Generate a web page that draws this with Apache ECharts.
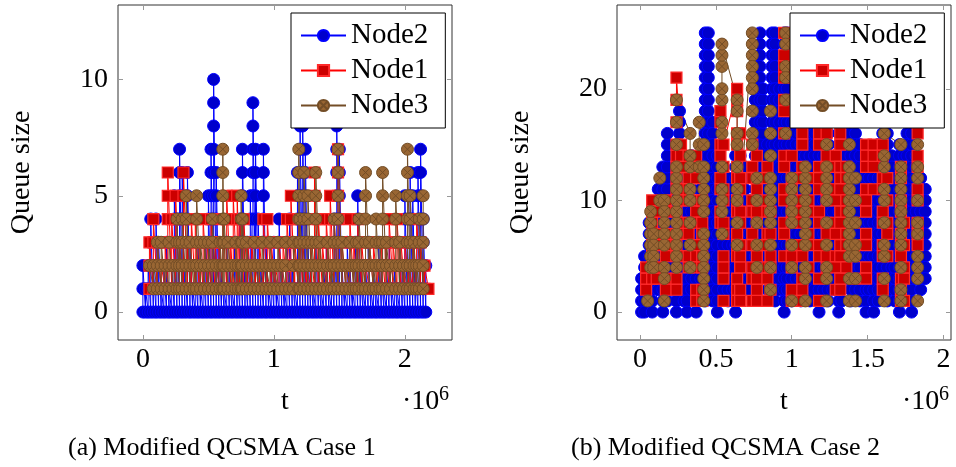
<!DOCTYPE html>
<html><head><meta charset="utf-8">
<script src="https://cdn.jsdelivr.net/npm/echarts@6/dist/echarts.min.js"></script>
<style>html,body{margin:0;padding:0;background:#fff}#c{width:956px;height:467px}</style>
</head><body><div id="c"></div>
<script>
// ---------------- DATA ----------------
const seriesNames = ['Node2', 'Node1', 'Node3'];
const captions = ['(a) Modified QCSMA Case 1', '(b) Modified QCSMA Case 2'];
const xAxisName = 't';
const yAxisName = 'Queue size';
const case1XTicks = [0, 1, 2];
const case1YTicks = [0, 5, 10];
const case2XTicks = [0, 0.5, 1, 1.5, 2];
const case2YTicks = [0, 10, 20];
// each run: [t (x10^6), queue sizes logged at that time, in order]
const case1Node2 = [
[0.00,[0,1,2]],[0.02,[0,1]],[0.04,[0,1,2]],[0.06,[0,1,2,3,4]],[0.08,[0,1,2]],[0.10,[0,1,2,3,4]],[0.12,[0,1,2,3]],[0.14,[0,1]],
[0.16,[0,1,2]],[0.18,[0,1,2,3]],[0.20,[0,1]],[0.22,[0,1,2]],[0.24,[0,1,2,3,4,5]],[0.26,[0,1,2,3,4]],[0.28,[0,1,2,3,4,5,6,7]],
[0.30,[0,1,2,3,4,5,6]],[0.32,[0,1,2]],[0.34,[0,1,2,3,4,5,6]],[0.36,[0,1,2,3]],[0.38,[0,1]],[0.40,[0,1,2]],[0.42,[0,1,2,3]],
[0.44,[0,1]],[0.46,[0,1,2]],[0.48,[0,1,2,3]],[0.50,[0,1,2,3,4,5]],[0.52,[0,1,2,3,4,5,6,7]],[0.54,[0,1,2,3,4,5,6,7,8,9,10]],
[0.56,[0,1,2,3,4,5,6]],[0.58,[0,1,2,3]],[0.60,[0,1,2]],[0.62,[0,1]],[0.64,[0,1,2,3]],[0.66,[0,1,2]],[0.68,[0,1]],[0.70,[0,1,2,3]],
[0.72,[0,1,2]],[0.74,[0,1,2,3,4]],[0.76,[0,1,2,3,4,5,6,7]],[0.78,[0,1,2]],[0.80,[0,1,2,3]],[0.82,[0,1,2,3,4,5]],
[0.84,[0,1,2,3,4,5,6,7,8,9]],[0.86,[0,1,2,3,4,5,6,7]],[0.88,[0,1,2,3,4]],[0.90,[0,1,2]],[0.92,[0,1,2,3,4,5,6,7]],[0.94,[0,1,2,3]],
[0.96,[0,1]],[0.98,[0,1,2]],[1.00,[0,1,2,3]],[1.02,[0,1]],[1.04,[0,1,2,3,4]],[1.06,[0,1,2]],[1.08,[0,1]],[1.10,[0,1,2,3]],
[1.12,[0,1,2,3,4]],[1.14,[0,1,2]],[1.16,[0,1]],[1.18,[0,1,2,3,4,5,6]],[1.20,[0,1,2,3,4,5,6,7,8]],[1.22,[0,1,2,3,4,5,6,7,8]],
[1.24,[0,1,2,3,4,5,6,7]],[1.26,[0,1,2,3]],[1.28,[0,1,2]],[1.30,[0,1]],[1.32,[0,1,2,3]],[1.34,[0,1,2]],[1.36,[0,1]],[1.38,[0,1,2]],
[1.40,[0,1,2,3]],[1.42,[0,1]],[1.44,[0,1,2]],[1.46,[0,1,2,3,4]],[1.48,[0,1,2,3,4,5,6,7,8]],[1.50,[0,1,2,3,4,5,6,7]],[1.52,[0,1,2]],
[1.54,[0,1]],[1.56,[0,1,2,3]],[1.58,[0,1,2]],[1.60,[0,1]],[1.62,[0,1,2,3]],[1.64,[0,1,2,3,4,5]],[1.66,[0,1,2]],[1.68,[0,1]],
[1.70,[0,1,2]],[1.72,[0,1,2,3]],[1.74,[0,1]],[1.76,[0,1,2]],[1.78,[0,1]],[1.80,[0,1,2,3]],[1.82,[0,1,2]],[1.84,[0,1]],
[1.86,[0,1,2]],[1.88,[0,1,2,3]],[1.90,[0,1]],[1.92,[0,1,2]],[1.94,[0,1]],[1.96,[0,1,2,3]],[1.98,[0,1,2]],[2.00,[0,1,2,3,4,5]],
[2.02,[0,1,2,3]],[2.04,[0,1,2,3,4,5,6]],[2.06,[0,1,2,3,4,5]],[2.08,[0,1,2]],[2.10,[0,1,2,3,4,5,6]],[2.12,[0,1,2,3,4,5,6,7]],
[2.14,[0,1,2,3,4]],[2.16,[0,1,2]]
];
const case1Node1 = [
[0.05,[1,2,3]],[0.08,[1,2,3,4]],[0.11,[1,2,3]],[0.14,[1,2]],[0.17,[1,2,3]],[0.19,[1,2,3,4,5,6]],[0.22,[1,2,3,4]],[0.25,[1,2,3,4,5]],
[0.28,[1,2,3]],[0.31,[1,2,3,4,5,6]],[0.34,[1,2,3]],[0.37,[1,2,3,4]],[0.40,[1,2,3,4]],[0.43,[1,2,3]],[0.46,[1,2,3,4]],[0.49,[1,2,3]],
[0.52,[1,2,3,4]],[0.55,[1,2,3]],[0.58,[1,2,3]],[0.61,[1,2,3,4]],[0.64,[1,2,3,4,5]],[0.67,[1,2,3]],[0.69,[1,2,3,4,5]],[0.72,[1,2,3,4,5]],
[0.74,[1,2,3,4]],[0.77,[1,2,3,4]],[0.80,[1,2,3]],[0.83,[1,2,3]],[0.86,[1,2]],[0.89,[1,2,3]],[0.92,[1,2,3,4]],[0.95,[1,2,3,4]],
[0.98,[1,2,3]],[1.01,[1,2]],[1.04,[1,2,3]],[1.07,[1,2,3]],[1.10,[1,2,3,4]],[1.13,[1,2,3,4,5]],[1.16,[1,2,3]],[1.19,[1,2,3,4]],
[1.22,[1,2,3]],[1.25,[1,2]],[1.28,[1,2,3]],[1.31,[1,2,3,4,5,6]],[1.34,[1,2,3,4]],[1.37,[1,2,3]],[1.40,[1,2,3,4]],[1.43,[1,2,3,4,5]],
[1.46,[1,2,3,4]],[1.49,[1,2,3,4,5,6,7]],[1.52,[1,2,3]],[1.55,[1,2]],[1.58,[1,2,3,4]],[1.61,[1,2,3]],[1.64,[1,2,3,4]],[1.67,[1,2,3]],
[1.70,[1,2]],[1.73,[1,2,3]],[1.76,[1,2,3]],[1.79,[1,2]],[1.82,[1,2,3]],[1.85,[1,2,3]],[1.88,[1,2,3,4]],[1.91,[1,2,3]],
[1.94,[1,2,3,4]],[1.97,[1,2,3]],[2.00,[1,2,3]],[2.03,[1,2]],[2.06,[1,2,3]],[2.09,[1,2,3,4]],[2.12,[1,2,3]],[2.15,[1,2]],[2.18,[1]]
];
const case1Node3 = [
[0.05,[2]],[0.08,[1,2]],[0.11,[1,2,3]],[0.14,[1,2,3]],[0.17,[1,2]],[0.20,[1,2,3]],[0.23,[1,2]],[0.26,[1,2,3,4]],[0.28,[1,2,3]],
[0.30,[1,2,3,4]],[0.33,[1,2,3,4,5]],[0.36,[1,2,3]],[0.39,[1,2]],[0.41,[1,2,3,4,5]],[0.44,[1,2,3]],[0.47,[1,2,3]],[0.50,[1,2,3]],
[0.53,[1,2,3,4]],[0.56,[1,2]],[0.59,[1,2,3]],[0.61,[1,2,3,4,5,6,7]],[0.62,[1,2,3,4]],[0.65,[1,2,3]],[0.68,[1,2]],[0.71,[1,2,3]],
[0.73,[1,2]],[0.75,[1,2,3,4,5]],[0.76,[1,2,3,4]],[0.79,[1,2,3]],[0.82,[1,2]],[0.85,[1,2,3]],[0.88,[1,2]],[0.91,[1,2,3]],[0.94,[1,2]],
[0.97,[1,2,3]],[1.00,[1,2]],[1.03,[1,2,3]],[1.06,[1,2]],[1.09,[1,2,3]],[1.12,[1]],[1.15,[1,2,3]],[1.19,[1,2,3,4,5,6,7]],
[1.20,[1,2,3,4]],[1.23,[1,2,3,4,5,6]],[1.26,[1,2,3,4,5]],[1.29,[1,2,3]],[1.32,[1,2,3,4,5,6]],[1.35,[1,2,3]],[1.38,[1,2]],
[1.41,[1,2,3]],[1.44,[1,2]],[1.46,[1,2,3,4]],[1.49,[1,2,3,4,5,6,7]],[1.52,[1,2,3]],[1.55,[1,2]],[1.58,[1,2,3]],[1.61,[1,2]],
[1.63,[1,2,3]],[1.65,[1,2,3,4]],[1.68,[1,2]],[1.70,[1,2,3,4,5,6]],[1.73,[1,2,3]],[1.76,[1,2]],[1.78,[1,2,3,4]],[1.81,[1,2,3]],
[1.83,[1,2,3,4,5,6]],[1.86,[1,2,3]],[1.89,[1,2]],[1.93,[1,2,3,4,5]],[1.96,[1,2,3]],[1.99,[1,2]],[2.02,[1,2,3,4,5,6,7]],
[2.04,[1,2,3,4,5]],[2.07,[1,2,3]],[2.09,[1,2]],[2.11,[1,2,3,4]],[2.14,[1,2,3,4,5]]
];
const case2Node2 = [
[0.01,[0,1,2,3]],[0.03,[5,4,3,2,1,0]],[0.06,[1,2,3,4,5,6,7,8]],[0.08,[6,5,4,3,2,1,0]],[0.12,[2,3,4,5,6,7,8,9,10,11]],
[0.15,[13,12,11,10,9,8,7,6,5,4,3,2,1,0]],[0.18,[1,2,3,4,5,6,7,8,9,10,11,12,13,14,15,16]],[0.21,[10,9,8,7,6,5,4,3,2]],
[0.24,[0,1,2,3,4,5,6,7,8,9,10,11,12,13,14]],[0.26,[18,17,16,15,14,13,12,11,10,9,8,7,6,5,4,3,2]],
[0.29,[1,2,3,4,5,6,7,8,9,10,11,12]],[0.31,[9,8,7,6,5,4,3,2,1,0]],[0.34,[2,3,4,5,6,7,8,9,10,11,12,13,14]],
[0.37,[8,7,6,5,4,3,2,1,0]],[0.40,[3,4,5,6,7,8,9,10,11,12,13]],
[0.43,[25,24,23,22,21,20,19,18,17,16,15,14,13,12,11,10,9,8,7,6,5,4,3,2,1]],
[0.45,[2,3,4,5,6,7,8,9,10,11,12,13,14,15,16,17,18,19,20,21,22,23,24,25]],
[0.48,[17,16,15,14,13,12,11,10,9,8,7,6,5,4,3,2,1]],[0.51,[0,1,2,3,4,5,6,7,8,9,10,11,12,13,14]],
[0.55,[13,12,11,10,9,8,7,6,5,4,3,2]],[0.58,[1,2,3,4,5,6,7,8,9,10,11,12]],[0.61,[8,7,6,5,4,3,2]],
[0.63,[0,1,2,3,4,5,6,7,8,9,10,11,12,13,14]],[0.66,[14,13,12,11,10,9,8,7,6,5,4,3,2]],[0.69,[3,4,5,6,7,8,9,10,11,12,13]],
[0.72,[10,9,8,7,6,5,4,3,2]],[0.76,[4,5,6,7,8,9,10,11,12,13,14,15,16,17,18,19,20,21,22]],
[0.79,[25,24,23,22,21,20,19,18,17,16,15,14,13,12,11,10,9,8,7,6,5,4,3]],
[0.81,[4,5,6,7,8,9,10,11,12,13,14,15,16,17,18,19,20]],[0.84,[15,14,13,12,11,10,9,8,7,6,5,4,3,2]],
[0.87,[3,4,5,6,7,8,9,10,11,12,13,14,15,16,17,18,19,20,21,22,23,24,25]],
[0.89,[25,24,23,22,21,20,19,18,17,16,15,14,13,12,11,10,9,8,7,6,5,4,3,2,1]],
[0.92,[2,3,4,5,6,7,8,9,10,11,12,13,14,15,16,17,18,19,20]],
[0.95,[25,24,23,22,21,20,19,18,17,16,15,14,13,12,11,10,9,8,7,6,5,4,3,2,1,0]],
[0.97,[1,2,3,4,5,6,7,8,9,10,11,12,13,14,15,16,17,18,19,20,21,22,23,24,25]],
[1.00,[18,17,16,15,14,13,12,11,10,9,8,7,6,5,4,3,2,1]],[1.03,[2,3,4,5,6,7,8,9,10,11,12,13,14,15,16,17,18,19,20]],
[1.06,[19,18,17,16,15,14,13,12,11,10,9,8,7,6,5,4,3,2,1]],[1.09,[3,4,5,6,7,8,9,10,11,12,13,14,15,16,17,18,19,20]],
[1.12,[18,17,16,15,14,13,12,11,10,9,8,7,6,5,4,3,2,1]],[1.15,[2,3,4,5,6,7,8,9,10,11,12,13,14,15,16]],
[1.18,[17,16,15,14,13,12,11,10,9,8,7,6,5,4,3,2,1,0]],[1.21,[1,2,3,4,5,6,7,8,9,10,11,12,13,14]],
[1.24,[16,15,14,13,12,11,10,9,8,7,6,5,4,3,2,1]],[1.27,[2,3,4,5,6,7,8,9,10,11,12,13]],
[1.31,[16,15,14,13,12,11,10,9,8,7,6,5,4,3,2,1,0]],[1.33,[1,2,3,4,5,6,7,8,9,10,11,12,13,14,15]],
[1.36,[17,16,15,14,13,12,11,10,9,8,7,6,5,4,3]],[1.39,[1,2,3,4,5,6,7,8,9,10,11,12,13,14,15,16]],
[1.42,[16,15,14,13,12,11,10,9,8,7,6,5,4,3,2]],[1.45,[1,2,3,4,5,6,7,8,9,10,11,12,13,14,15]],
[1.49,[14,13,12,11,10,9,8,7,6,5,4,3,2,1,0]],[1.51,[2,3,4,5,6,7,8,9,10,11,12]],
[1.54,[13,12,11,10,9,8,7,6,5,4,3,2,1,0]],[1.57,[1,2,3,4,5,6,7,8,9,10,11,12,13,14,15]],
[1.60,[17,16,15,14,13,12,11,10,9,8,7,6,5,4,3]],[1.63,[1,2,3,4,5,6,7,8,9,10,11,12,13,14,15,16]],
[1.66,[14,13,12,11,10,9,8,7,6,5,4,3,2]],[1.68,[1,2,3,4,5,6,7,8,9,10,11,12]],
[1.71,[15,14,13,12,11,10,9,8,7,6,5,4,3,2,1,0]],[1.74,[1,2,3,4,5,6,7,8,9,10,11,12,13,14]],
[1.76,[16,15,14,13,12,11,10,9,8,7,6,5,4,3,2]],[1.79,[0,1,2,3,4,5,6,7,8,9,10,11,12,13,14,15,16]],
[1.82,[15,14,13,12,11,10,9,8,7,6,5,4,3]],[1.85,[2,3,4,5,6,7,8,9,10,11,12]],[1.88,[11,10,9,8,7,6,5,4,3]]
];
const case2Node1 = [
[0.04,[2,3,4]],[0.08,[10,9,8,6,5,3]],[0.11,[3,4,6,7,9]],[0.17,[10,9,7,6,5,3,2]],
[0.24,[2,3,5,6,7,9,11,12,13,14,15,17,19,21]],[0.27,[15,14,13,11,10,8,7,5]],[0.32,[4,5,7,8,10,11,12,14]],
[0.37,[14,13,12,10,9,8,6,5,4,2,1]],[0.41,[1,2,4,5,7,8,10]],[0.53,[18,17,15,14,12,11,9,8]],
[0.55,[1,3,4,5,7,8,10,11,13,15]],[0.64,[20,19,18,16,15,13,12,10,9,7,6,5,3,2,1]],[0.66,[1,2,4,5,6,8,9,11,12,14,16]],
[0.74,[15,13,12,10,9,7,6,4,3,1]],[0.77,[1,2,3,5,6,8,9,11,12,14]],[0.84,[13,12,10,9,7,6,4,3,1]],[0.86,[2,4,5,7,9]],
[0.95,[25,23,22,21,19,18,16,14,13,11,10,8,7,5]],[1.00,[1,2,4,5,6,8,9,11,12,14]],[1.07,[16,15,13,12,10,9,8,6,5,3,2,1]],
[1.11,[4,6,7,9,10,12]],[1.18,[16,15,13,12,11,9,8,6,5,3,1]],[1.23,[4,5,7,8,10,11,13,14,16]],[1.29,[14,13,11,10,8,7,5,4,2]],
[1.32,[2,3,5,6,8,9,11,12,13,15,16]],[1.36,[13,12,10,9,7,6,4]],[1.41,[3,5,6,8,10]],[1.49,[15,14,13,11,10,9,7,6,4,3]],
[1.54,[11,13,14,15]],[1.60,[15,14,12,11,9,8,6,5,3,2]],[1.63,[5,7,8,10,12]],[1.72,[13,12,10,9,7,6,5,3,2,1]],
[1.74,[1,3,4,6,8]],[1.83,[16,14,13,11,10,8,7,6]]
];
const case2Node3 = [
[0.05,[1]],[0.07,[4,5,6,7,8,9]],[0.09,[7,6,5,4]],[0.13,[10,12]],[0.16,[10,9,8,7,6,4,3,1]],
[0.24,[4,5,6,7,8,9,10,11,12,13,15,17,19]],[0.33,[16,14,13,11,10,8,6,4]],[0.39,[13,15,17]],
[0.42,[15,13,12,11,10,9,7,6,5,4,3,2,1]],[0.54,[7,9,10,11,13,16,17,19,20,22,23,24]],
[0.64,[19,18,16,15,13,11,10,8,6]],[0.74,[25,24,23,22,21,20,18,16,15]],[0.77,[12,10,8,6,4]],
[0.86,[2,4,6,8,9,10,11,12,14,16,18]],[0.96,[25,24,22,21,19,16]],[1.00,[12,11,10,9,8,6,4,1]],
[1.09,[1,3,4,6,7,8,9,10,11,12,13]],[1.23,[15,13,12,11,10,8,6,4,3,1]],[1.38,[1,3,5,6,7,8,9,10,11,12,13,15]],
[1.42,[12,10,8,6,5,3,1]],[1.61,[1,3,5,6,8,10,11,13,14,16]],[1.72,[15,13,12,11,10,9,8,7,6,4,2,1]],
[1.83,[1,3,4,5,7,8,10,12,13,15]]
];

// ---------------- CHART ----------------
const FONT = "'Liberation Serif','DejaVu Serif',serif";
const toPoints = runs => runs.flatMap(([t, qs]) => qs.map(q => [t, q]));
const styles = {
  Node2: {symbol:'circle', symbolSize:12, itemStyle:{color:'#0000cc', borderColor:'#0000ff', borderWidth:1}, lineStyle:{color:'#0000ff', width:1}},
  Node1: {symbol:'rect', symbolSize:11, itemStyle:{color:'#cc0000', borderColor:'#ff2a2a', borderWidth:1.2}, lineStyle:{color:'#ff0000', width:1}},
  Node3: {symbol:'path://M0,5A5,5,0,1,1,10,5A5,5,0,1,1,0,5ZM1.46,1.46L8.54,8.54M8.54,1.46L1.46,8.54', symbolSize:12,
          itemStyle:{color:'#996633', borderColor:'#734d26', borderWidth:1}, lineStyle:{color:'#734d26', width:1}}
};
function mkSeries(name, runs, idx) {
  const s = styles[name];
  return {type:'line', name, xAxisIndex:idx, yAxisIndex:idx, data:toPoints(runs), symbol:s.symbol, symbolSize:s.symbolSize,
    showAllSymbol:true, itemStyle:s.itemStyle, lineStyle:s.lineStyle, emphasis:{disabled:true}, animation:false};
}
const tickStyle = {inside:true, length:5, lineStyle:{color:'#999', width:1}};
const noLine = {show:false, onZero:false};
function xAxes(gi, min, max, ticks) {
  return [
    {type:'value', gridIndex:gi, position:'bottom', min, max, splitLine:{show:false}, axisLine:noLine,
     axisTick:Object.assign({customValues:ticks}, tickStyle),
     axisLabel:{customValues:ticks, margin:6, fontFamily:FONT, fontSize:28, color:'#000'},
     name:xAxisName, nameLocation:'middle', nameGap:48, nameTextStyle:{fontFamily:FONT, fontSize:28, color:'#000'}},
    {type:'value', gridIndex:gi, position:'top', min, max, splitLine:{show:false}, axisLine:noLine,
     axisTick:Object.assign({customValues:ticks}, tickStyle), axisLabel:{show:false}}
  ];
}
function yAxes(gi, min, max, ticks) {
  return [
    {type:'value', gridIndex:gi, position:'left', min, max, splitLine:{show:false}, axisLine:noLine,
     axisTick:Object.assign({customValues:ticks}, tickStyle),
     axisLabel:{customValues:ticks, margin:10, fontFamily:FONT, fontSize:28, color:'#000'},
     name:yAxisName, nameLocation:'middle', nameGap:82, nameTextStyle:{fontFamily:FONT, fontSize:28, color:'#000'}},
    {type:'value', gridIndex:gi, position:'right', min, max, splitLine:{show:false}, axisLine:noLine,
     axisTick:Object.assign({customValues:ticks}, tickStyle), axisLabel:{show:false}}
  ];
}
function mkLegend(left) {
  return {left, top:13, orient:'vertical', data:seriesNames, itemWidth:45, itemHeight:14, itemGap:6,
    padding:[8,17,8,9], backgroundColor:'#fff', borderColor:'#000', borderWidth:1, borderRadius:0,
    textStyle:{fontFamily:FONT, fontSize:29, color:'#000'}, selectedMode:false};
}
const option = {
  animation:false,
  backgroundColor:'#fff',
  grid:[
    {left:118, top:5, width:334, height:335, show:true, borderColor:'#333', borderWidth:1, backgroundColor:'transparent'},
    {left:617, top:5, width:334, height:335, show:true, borderColor:'#333', borderWidth:1, backgroundColor:'transparent'}
  ],
  xAxis:[...xAxes(0, -0.19, 2.36, case1XTicks), ...xAxes(1, -0.152, 2.05, case2XTicks)],
  yAxis:[...yAxes(0, -1.2, 13.2, case1YTicks), ...yAxes(1, -2.5, 27.5, case2YTicks)],
  legend:[mkLegend(291), mkLegend(790)],
  title:[
    {text:captions[0], left:68, top:435, padding:0, textStyle:{fontFamily:FONT, fontSize:26, fontWeight:'normal', color:'#000'}},
    {text:captions[1], left:571, top:435, padding:0, textStyle:{fontFamily:FONT, fontSize:26, fontWeight:'normal', color:'#000'}}
  ],
  graphic:[
    {type:'text', x:402, y:402, style:{text:'·10', fontFamily:FONT, fontSize:28, fill:'#000', verticalAlign:'middle'}},
    {type:'text', x:439, y:395, style:{text:'6', fontFamily:FONT, fontSize:20, fill:'#000', verticalAlign:'middle'}},
    {type:'text', x:902, y:402, style:{text:'·10', fontFamily:FONT, fontSize:28, fill:'#000', verticalAlign:'middle'}},
    {type:'text', x:939, y:395, style:{text:'6', fontFamily:FONT, fontSize:20, fill:'#000', verticalAlign:'middle'}}
  ],
  series:[
    mkSeries('Node2', case1Node2, 0), mkSeries('Node1', case1Node1, 0), mkSeries('Node3', case1Node3, 0),
    mkSeries('Node2', case2Node2, 2), mkSeries('Node1', case2Node1, 2), mkSeries('Node3', case2Node3, 2)
  ]
};
const chart = echarts.init(document.getElementById('c'), null, {renderer:'canvas'});
chart.setOption(option);
</script></body></html>
